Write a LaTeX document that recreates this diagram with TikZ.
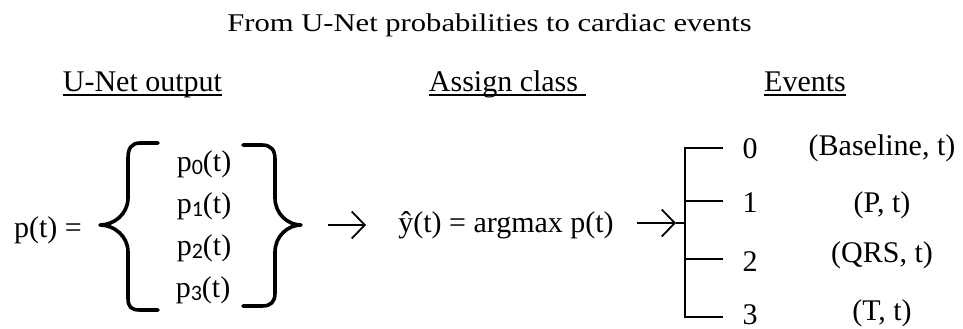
\documentclass[tikz,border=0pt]{standalone}
\usepackage{fontspec}
\setmainfont{Liberation Serif}
\newfontfamily\subfont{Carlito}
\usetikzlibrary{arrows.meta}
\begin{document}
\begin{tikzpicture}[x=1pt,y=-1pt,
  txt/.style={font=\fontsize{30}{36}\selectfont, inner sep=0pt, anchor=base},
  hdr/.style={txt},
  uline/.style={line width=2.2pt},
  brace/.style={line width=3.6pt, line cap=round, line join=round},
  tree/.style={line width=2pt},
  arr/.style={line width=1.8pt, -{Straight Barb[length=13pt,width=27pt,line width=1.8pt]}},
]
\newcommand{\psub}[1]{p{\raisebox{-3pt}{\subfont\fontsize{22}{22}\selectfont #1}}(t)}
\useasboundingbox (0,0) rectangle (963,329);
\fill[white] (0,0) rectangle (963,329);

% title
\node[inner sep=0pt, anchor=base] (title) at (489.5,32)
  {\scalebox{1.2}[1]{\fontsize{25.5}{30}\selectfont From U-Net probabilities to cardiac events}};

% headers
\node[hdr] (h1) at (142.5,92) {U-Net output};
\node[hdr] (h2) at (503.5,92) {Assign class};
\node[hdr] (h3) at (805,92) {Events};
\draw[uline] ([yshift=-3pt]h1.base west) -- ([yshift=-3pt]h1.base east);
\draw[uline] ([yshift=-3pt]h2.base west) -- ([yshift=-3pt,xshift=8pt]h2.base east);
\draw[uline] ([yshift=-3pt]h3.base west) -- ([yshift=-3pt]h3.base east);

% left part
\node[txt] (pt) at (48,237) {p(t) =};
\node[txt] (p0) at (204,171) {\psub{0}};
\node[txt] (p1) at (204,213) {\psub{1}};
\node[txt] (p2) at (204,255) {\psub{2}};
\node[txt] (p3) at (203,297) {\psub{3}};

% braces
\draw[brace] (158,143) -- (140,143) .. controls (131,143) and (128,149) .. (128,158)
  -- (128,198) .. controls (128,214) and (114,225) .. (100,225)
  .. controls (114,225) and (128,236) .. (128,252) -- (128,298)
  .. controls (128,307) and (131,310) .. (140,310) -- (158,310);
\draw[brace] (243,145) -- (262,145) .. controls (271,145) and (275,150) .. (275,159)
  -- (275,198) .. controls (275,214) and (288,225) .. (301,225)
  .. controls (288,225) and (275,236) .. (275,252) -- (275,293)
  .. controls (275,302) and (271,306) .. (262,306) -- (243,306);

% middle
\coordinate (a1s) at (328,225);
\coordinate (a1e) at (366,225);
\draw[arr] (a1s) -- (a1e);
\node[txt] (yhat) at (506,232) {ŷ(t) = argmax p(t)};
\coordinate (a2s) at (637,223);
\coordinate (a2e) at (676,223);
\coordinate (j) at (685,223);
\draw[arr] (a2s) -- (a2e);
\draw[line width=1.8pt] (a2e) -- (j);

% tree
\coordinate (t0) at (685,148);
\coordinate (t3) at (685,317);
\coordinate (b0) at (723,148);
\coordinate (b1) at (723,201);
\coordinate (b2) at (723,259);
\coordinate (b3) at (723,317);
\draw[tree] (b0) -- (t0) -- (t3) -- (b3);
\draw[tree] (b1) -- (b1 -| t0);
\draw[tree] (b2) -- (b2 -| t0);

\node[txt] (n0) at (750,158) {0};
\node[txt] (n1) at (750,212) {1};
\node[txt] (n2) at (750,271) {2};
\node[txt] (n3) at (750,324) {3};

\node[txt] (e0) at (882,155.5) {(Baseline, t)};
\node[txt] (e1) at (882,212.5) {(P, t)};
\node[txt] (e2) at (882,262.5) {(QRS, t)};
\node[txt] (e3) at (882,320.5) {(T, t)};
\end{tikzpicture}
\end{document}
